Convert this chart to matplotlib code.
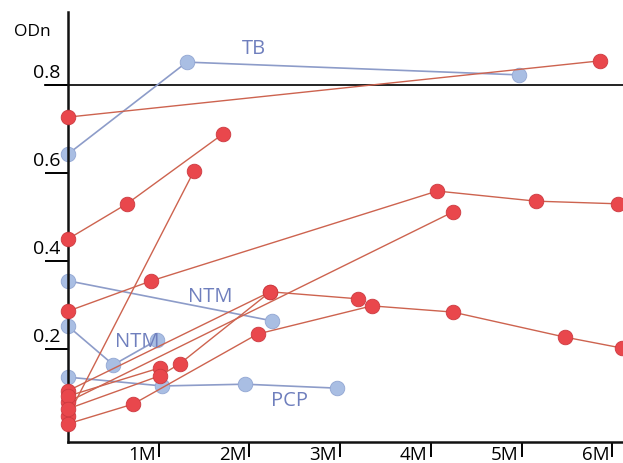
import matplotlib
matplotlib.use("Agg")
import matplotlib.pyplot as plt
from matplotlib.transforms import ScaledTranslation

plt.rcParams["font.family"] = ["Open Sans", "DejaVu Sans"]

# months since start, ODn value
tb_x = [0, 1.31, 4.97]
tb_y = [0.643, 0.852, 0.823]

ntm1_x = [0, 2.25]
ntm1_y = [0.355, 0.264]

ntm2_x = [0, 0.50, 0.98]
ntm2_y = [0.252, 0.164, 0.220]

pcp_x = [0, 1.04, 1.95, 2.97]
pcp_y = [0.136, 0.116, 0.120, 0.111]

# red patients (treated)
red_series = [
    ([0, 5.87], [0.727, 0.855]),
    ([0, 0.65, 1.71], [0.450, 0.530, 0.689]),
    ([0, 1.39], [0.048, 0.605]),
    ([0, 0.92, 4.07, 5.16, 6.06], [0.286, 0.355, 0.559, 0.536, 0.530]),
    ([0, 4.24], [0.080, 0.511]),
    ([0, 2.23], [0.105, 0.330]),
    ([0, 0.72, 2.09, 3.35, 4.24, 5.48, 6.11], [0.030, 0.075, 0.234, 0.298, 0.284, 0.227, 0.202]),
    ([0, 1.01], [0.093, 0.157]),
    ([0, 1.01, 1.23, 2.23, 3.20], [0.064, 0.139, 0.166, 0.330, 0.314]),
]

threshold = 0.8
y_ticks = [0.8, 0.6, 0.4, 0.2]
y_tick_labels = ["0.8", "0.6", "0.4", "0.2"]
x_ticks = [1, 2, 3, 4, 5, 6]
x_tick_labels = ["1M", "2M", "3M", "4M", "5M", "6M"]

red_line = "#cd634f"
red_face = "#e9474c"
red_edge = "#cc3a40"
blue_line = "#8d9cc9"
blue_face = "#a9bee3"
blue_edge = "#92a6d3"
label_color = "#6f7fbd"

fig = plt.figure(figsize=(6.23, 4.64), dpi=100)
ax = fig.add_axes([68 / 623, 21 / 464, 1 - 68 / 623, (443 - 13) / 464])
ax.set_xlim(0, 555 / 90.7)
ax.set_ylim(-5 / 440, 425 / 440)

# threshold line, starts left of the axis like the tick marks
ax.plot([-23 / 90.7, 555 / 90.7], [threshold, threshold], color="#222222", lw=1.4,
        clip_on=False, zorder=1)

for xs, ys in red_series:
    ax.plot(xs, ys, color=red_line, lw=1.0, marker="o", ms=10.5,
            mfc=red_face, mec=red_edge, mew=0.6, clip_on=False, zorder=3)

for xs, ys in [(tb_x, tb_y), (ntm1_x, ntm1_y), (ntm2_x, ntm2_y), (pcp_x, pcp_y)]:
    ax.plot(xs, ys, color=blue_line, lw=1.2, marker="o", ms=10.5,
            mfc=blue_face, mec=blue_edge, mew=0.6, clip_on=False, zorder=2)

ax.text(2.05, 0.885, "TB", color=label_color, fontsize=14.5, ha="center", va="center")
ax.text(1.57, 0.32, "NTM", color=label_color, fontsize=14.5, ha="center", va="center")
ax.text(0.76, 0.218, "NTM", color=label_color, fontsize=14.5, ha="center", va="center")
ax.text(2.44, 0.085, "PCP", color=label_color, fontsize=14.5, ha="center", va="center")

fig.text(32 / 623, 1 - 32 / 464, "ODn", fontsize=12.5, ha="center", va="center")

for side in ["top", "right"]:
    ax.spines[side].set_visible(False)
ax.spines["left"].set_linewidth(1.8)
ax.spines["bottom"].set_linewidth(1.8)
ax.spines["left"].set_color("#111111")
ax.spines["bottom"].set_color("#111111")

ax.set_yticks(y_ticks)
ax.set_yticklabels(y_tick_labels, fontsize=14)
ax.tick_params(axis="y", direction="out", length=16.5, width=1.4, pad=-11)
for lab in ax.get_yticklabels():
    lab.set_transform(lab.get_transform() + ScaledTranslation(0, 0.15, fig.dpi_scale_trans))

ax.set_xticks(x_ticks)
ax.set_xticklabels(x_tick_labels, fontsize=13.5)
ax.tick_params(axis="x", direction="out", length=11, width=1.4, pad=-9)
for lab in ax.get_xticklabels():
    lab.set_horizontalalignment("right")
    lab.set_transform(lab.get_transform() + ScaledTranslation(-0.03, 0, fig.dpi_scale_trans))

fig.savefig("out.png", dpi=100)
